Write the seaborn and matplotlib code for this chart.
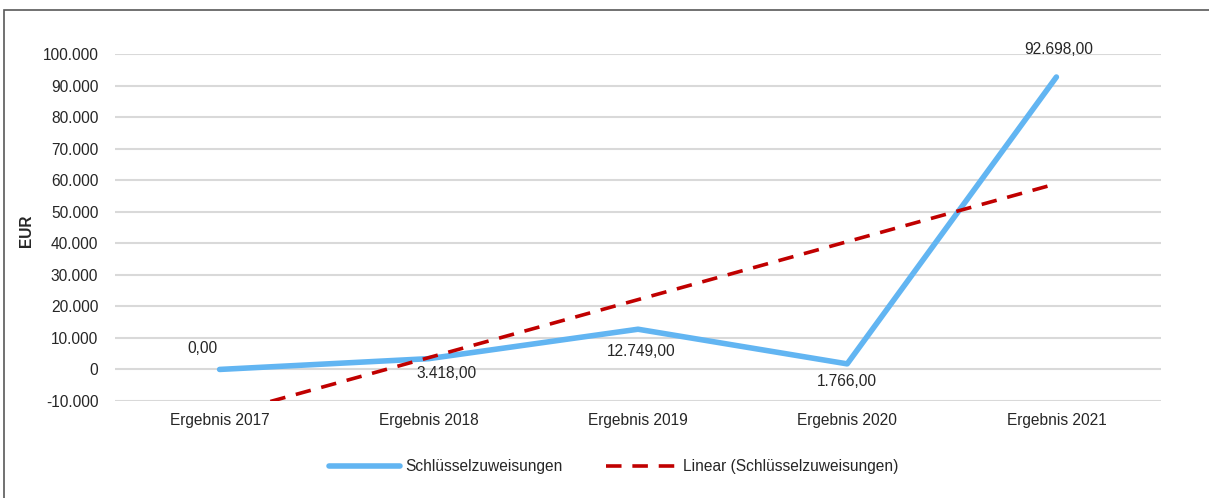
import numpy as np
import pandas as pd
import matplotlib
matplotlib.use('Agg')
import matplotlib.pyplot as plt
import seaborn as sns
from matplotlib.patches import Rectangle

# data
categories = ['Ergebnis 2017', 'Ergebnis 2018', 'Ergebnis 2019', 'Ergebnis 2020', 'Ergebnis 2021']
values = [0.00, 3418.00, 12749.00, 1766.00, 92698.00]
series_name = 'Schlüsselzuweisungen'
trend_name = 'Linear (Schlüsselzuweisungen)'
y_ticks = [-10000, 0, 10000, 20000, 30000, 40000, 50000, 60000, 70000, 80000, 90000, 100000]

# label offsets in points (dx, dy)
label_offsets = [(-12, 15), (13, -11), (2, -16), (0, -13), (2, 20)]

sns.set_style('white')
plt.rcParams['font.family'] = ['Liberation Sans', 'DejaVu Sans']
fs = 11.2

df = pd.DataFrame({'cat': categories, 'val': values, 'x': np.arange(len(categories))})

# linear trend (Excel style, x = 1..n)
xs = np.arange(1, len(values) + 1)
slope, intercept = np.polyfit(xs, values, 1)
df['trend'] = slope * xs + intercept

fig = plt.figure(figsize=(12.09, 4.98), dpi=100)
ax = fig.add_axes([0.0951, 0.1948, 0.8652, 0.6968])

sns.lineplot(data=df, x='x', y='val', ax=ax, color='#62B5F2', linewidth=4,
             solid_capstyle='round', label=series_name, zorder=3)
sns.lineplot(data=df, x='x', y='trend', ax=ax, color='#C00000', linewidth=2.6,
             dashes=False, label=trend_name, zorder=4)
ax.lines[-1].set_linestyle((0, (4.3, 3.0)))

ax.set_xlim(-0.5, len(categories) - 0.5)
ax.set_ylim(-10000, 100000)
ax.set_yticks(y_ticks)
ax.set_yticklabels([f'{v:,.0f}'.replace(',', '.') for v in y_ticks], fontsize=fs)
ax.set_xticks(df['x'])
ax.set_xticklabels(categories, fontsize=fs)
ax.tick_params(axis='x', length=0, pad=9)
ax.tick_params(axis='y', length=0, pad=12)
ax.grid(True, axis='y', color='#D9D9D9', linewidth=1.5)
ax.set_axisbelow(True)
for s in ax.spines.values():
    s.set_visible(False)
ax.set_xlabel('')
ax.set_ylabel('EUR', fontsize=fs, fontweight='bold')
ax.yaxis.set_label_coords(-0.077, 0.49)

for (xv, yv), (dx, dy) in zip(zip(df['x'], df['val']), label_offsets):
    txt = f'{yv:,.2f}'.replace(',', 'X').replace('.', ',').replace('X', '.')
    ax.annotate(txt, (xv, yv), xytext=(dx, dy), textcoords='offset points',
                ha='center', va='center', fontsize=fs)

leg = ax.legend(loc='center', bbox_to_anchor=(0.4766, -0.19), ncol=2, frameon=False,
                fontsize=fs, handlelength=4.6, handletextpad=0.33, columnspacing=2.8)

# outer chart border
fig.patches.append(Rectangle((4 / 1209, -0.1), 1.2, 1 - 10 / 498 + 0.1,
                             transform=fig.transFigure, fill=False,
                             edgecolor='#595959', linewidth=1.2))

fig.savefig('out.png', dpi=100)
